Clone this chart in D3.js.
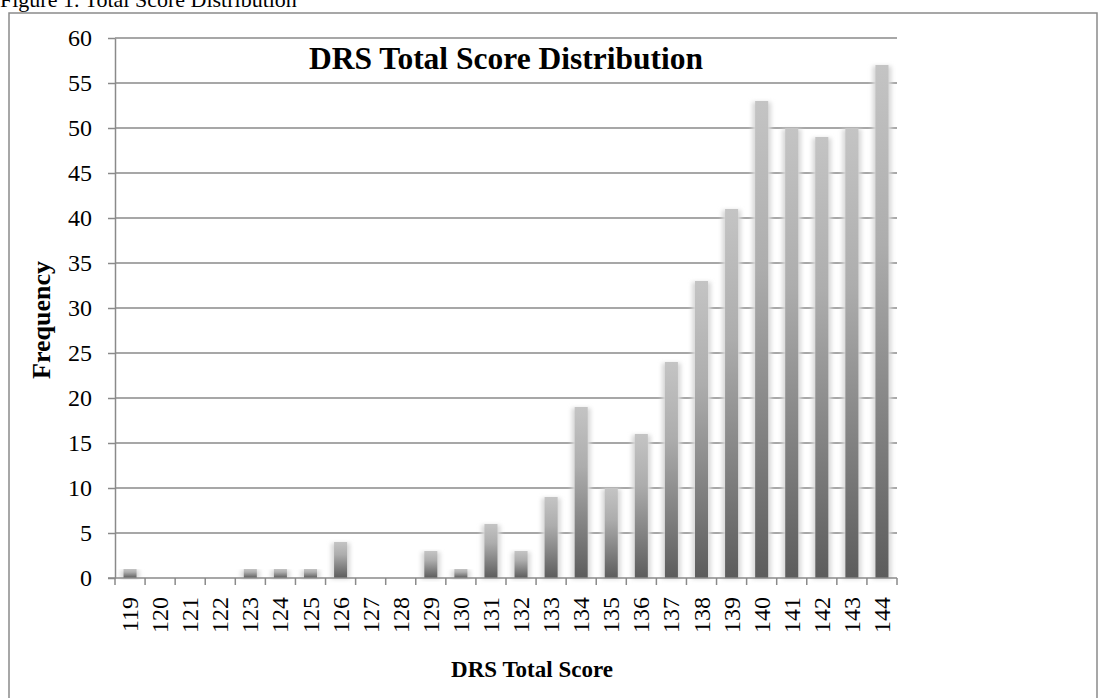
<!DOCTYPE html>
<html lang="en">
  <head>
    <meta charset="utf-8">
    <title>DRS Total Score Distribution</title>
    <script src="https://d3js.org/d3.v7.js"></script>
    <style>
      body { margin: 0; background: #fff; }
      text { font-family: "Liberation Serif", "Times New Roman", serif; fill: #000; }
    </style>
  </head>
  <body>
    <script type="text/javascript">
      // data
      var scores = ["119","120","121","122","123","124","125","126","127","128","129","130","131",
                    "132","133","134","135","136","137","138","139","140","141","142","143","144"];
      var freq = [1, 0, 0, 0, 1, 1, 1, 4, 0, 0, 3, 1, 6, 3, 9, 19, 10, 16, 24, 33, 41, 53, 50, 49, 50, 57];
      var yTicks = [0, 5, 10, 15, 20, 25, 30, 35, 40, 45, 50, 55, 60];

      var w = 1098, h = 698;
      var margin = {top: 38, right: 201, bottom: 120, left: 115};
      var innerWidth = w - margin.left - margin.right;
      var innerHeight = h - margin.top - margin.bottom;

      var data = scores.map(function(s, i) { return {score: s, n: freq[i]}; });

      var svg = d3.select("body").append("svg")
          .attr("width", w)
          .attr("height", h);

      var defs = svg.append("defs");
      var grad = defs.append("linearGradient")
          .attr("id", "barGrad")
          .attr("x1", 0).attr("y1", 0).attr("x2", 0).attr("y2", 1);
      grad.append("stop").attr("offset", "0%").attr("stop-color", "#c4c4c4");
      grad.append("stop").attr("offset", "35%").attr("stop-color", "#adadad");
      grad.append("stop").attr("offset", "100%").attr("stop-color", "#5c5c5c");
      defs.append("filter").attr("id", "blur")
          .attr("x", "-50%").attr("y", "-10%").attr("width", "200%").attr("height", "120%")
        .append("feGaussianBlur").attr("stdDeviation", 2);

      // figure caption and outer frame
      svg.append("text")
          .attr("x", 0).attr("y", 7)
          .style("font-size", "22px")
          .text("Figure 1. Total Score Distribution");

      svg.append("rect")
          .attr("x", 9).attr("y", 13)
          .attr("width", 1088).attr("height", 800)
          .attr("fill", "none")
          .attr("stroke", "#8a8a8a")
          .attr("stroke-width", 1.5);

      var xScale = d3.scaleBand()
          .domain(scores)
          .range([0, innerWidth]);

      var yScale = d3.scaleLinear()
          .domain([0, 60])
          .range([innerHeight, 0]);

      var plot = svg.append("g")
          .attr("transform", `translate(${margin.left}, ${margin.top})`);

      // grid lines
      plot.append("g").selectAll("line")
        .data(yTicks.filter(function(d) { return d > 0; }))
        .enter().append("line")
          .attr("x1", 0)
          .attr("x2", innerWidth)
          .attr("y1", d => yScale(d))
          .attr("y2", d => yScale(d))
          .attr("stroke", "#8a8a8a")
          .attr("stroke-width", 1.5);

      var barW = 13;

      // soft shadow behind bars
      plot.append("g").selectAll("rect")
        .data(data.filter(d => d.n > 0))
        .enter().append("rect")
          .attr("x", d => xScale(d.score) + xScale.bandwidth() / 2 - barW / 2 - 3)
          .attr("y", d => yScale(d.n) + 1)
          .attr("width", barW + 6)
          .attr("height", d => innerHeight - yScale(d.n))
          .attr("fill", "#d8d8d8")
          .attr("filter", "url(#blur)");

      // bars
      plot.append("g").selectAll("rect")
        .data(data.filter(d => d.n > 0))
        .enter().append("rect")
          .attr("x", d => xScale(d.score) + xScale.bandwidth() / 2 - barW / 2)
          .attr("y", d => yScale(d.n))
          .attr("width", barW)
          .attr("height", d => innerHeight - yScale(d.n))
          .attr("fill", "url(#barGrad)");

      // y axis
      var yAxis = d3.axisLeft(yScale)
          .tickValues(yTicks)
          .tickSizeInner(7)
          .tickSizeOuter(0)
          .tickPadding(16);

      var gy = plot.append("g").call(yAxis);
      gy.selectAll("line, path").attr("stroke", "#8a8a8a").attr("stroke-width", 1.5);
      gy.selectAll("text")
          .style("font-size", "24px")
          .style("font-family", "'Liberation Serif', serif")
          .attr("fill", "#000");

      // x axis (ticks between categories)
      var gx = plot.append("g")
          .attr("transform", `translate(0, ${innerHeight})`);

      gx.append("line")
          .attr("x1", -7).attr("x2", innerWidth)
          .attr("y1", 0).attr("y2", 0)
          .attr("stroke", "#8a8a8a").attr("stroke-width", 1.5);

      gx.selectAll("line.tick")
        .data(scores.concat(["end"]))
        .enter().append("line")
          .attr("class", "tick")
          .attr("x1", (d, i) => i * xScale.step())
          .attr("x2", (d, i) => i * xScale.step())
          .attr("y1", 0).attr("y2", 7)
          .attr("stroke", "#8a8a8a").attr("stroke-width", 1.5);

      gx.selectAll("text")
        .data(scores)
        .enter().append("text")
          .attr("transform", d => `translate(${xScale(d) + xScale.bandwidth() / 2 + 8}, 19) rotate(-90)`)
          .attr("text-anchor", "end")
          .style("font-size", "24px")
          .text(d => d);

      // titles
      svg.append("text")
          .attr("x", 506).attr("y", 69)
          .attr("text-anchor", "middle")
          .style("font-size", "31.5px")
          .style("font-weight", "bold")
          .text("DRS Total Score Distribution");

      svg.append("text")
          .attr("transform", "translate(50, 320) rotate(-90)")
          .attr("text-anchor", "middle")
          .style("font-size", "26px")
          .style("font-weight", "bold")
          .text("Frequency");

      svg.append("text")
          .attr("x", 532).attr("y", 677)
          .attr("text-anchor", "middle")
          .style("font-size", "23px")
          .style("font-weight", "bold")
          .text("DRS Total Score");
    </script>
  </body>
</html>
